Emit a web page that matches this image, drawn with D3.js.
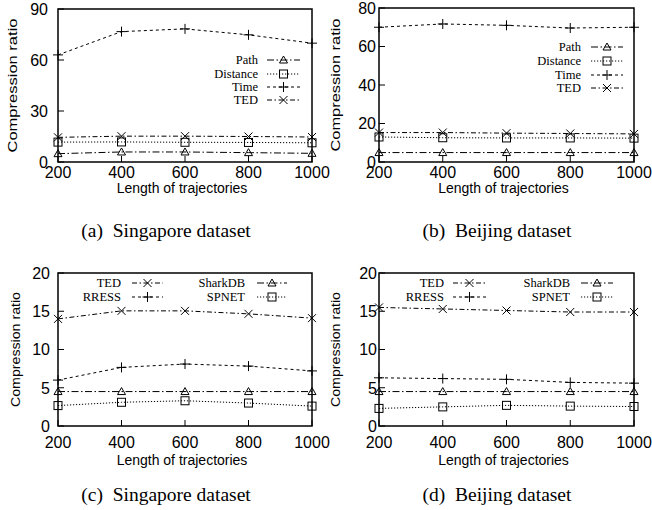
<!DOCTYPE html>
<html>
<head>
<meta charset="utf-8">
<script src="https://cdn.jsdelivr.net/npm/d3@7"></script>
<style>
body { margin: 0; background: #fff; }
svg { display: block; }
.tick-label { font-family: "Liberation Sans", Arial, sans-serif; font-size: 16px; }
.axis-title { font-family: "Liberation Sans", Arial, sans-serif; font-size: 13px; }
.legend-text { font-family: "Liberation Serif", "Times New Roman", serif; font-size: 12.5px; }
.caption { font-family: "Liberation Serif", "Times New Roman", serif; font-size: 19.5px; }
</style>
</head>
<body>
<svg id="chart" width="652" height="510"></svg>
<script>
// x values shared by all four panels
var lengths = [200, 400, 600, 800, 1000]

// (a) Singapore, trajectory size measures
var sgPath = [4.9, 5.9, 5.9, 5.5, 5.1]
var sgDistance = [11.7, 11.8, 11.6, 11.5, 11.3]
var sgTime = [63, 76.7, 78.3, 74.8, 69.9]
var sgTed = [14.5, 15.2, 15.2, 15.0, 14.7]

// (b) Beijing, trajectory size measures
var bjPath = [4.9, 4.9, 4.9, 4.9, 4.9]
var bjDistance = [13.0, 12.6, 12.5, 12.5, 12.4]
var bjTime = [70, 71.7, 71, 69.6, 70]
var bjTed = [15.3, 15.3, 15.0, 14.8, 14.6]

// (c) Singapore, compression methods
var sgTed2 = [14.0, 15.05, 15.05, 14.66, 14.1]
var sgRress = [6.0, 7.66, 8.1, 7.83, 7.2]
var sgShark = [4.5, 4.5, 4.5, 4.5, 4.5]
var sgSpnet = [2.67, 3.1, 3.3, 3.0, 2.6]

// (d) Beijing, compression methods
var bjTed2 = [15.5, 15.3, 15.1, 14.9, 14.9]
var bjRress = [6.3, 6.2, 6.1, 5.7, 5.6]
var bjShark = [4.5, 4.5, 4.5, 4.5, 4.5]
var bjSpnet = [2.3, 2.5, 2.7, 2.6, 2.55]

var topTicks = [[0, 30, 60, 90], [0, 20, 40, 60, 80]]
var bottomTicks = [0, 5, 10, 15, 20]

// gnuplot-ish line types
var styles = {
    dashdot: { dash: '7,2.5,1.5,2.5', marker: 'triangle' },
    dotted: { dash: '1.2,1.8', marker: 'square' },
    dashed: { dash: '3,3', marker: 'plus' },
    ted: { dash: '5,2.5,1.5,2.5', marker: 'cross' }
}

var panels = [
    {
        box: [58, 312, 9, 162], ymax: 90, ticks: topTicks[0], tickGap: 10,
        titleX: 12, titleLen: 134, xLabelY: 178, xTitleY: 193,
        caption: '(a)  Singapore dataset', capX: 166, capY: 237,
        series: [
            { name: 'Path', values: sgPath, style: 'dashdot' },
            { name: 'Distance', values: sgDistance, style: 'dotted' },
            { name: 'Time', values: sgTime, style: 'dashed' },
            { name: 'TED', values: sgTed, style: 'ted' }
        ],
        legend: { cols: [[258, 267, 300]], rows: [60, 74, 87, 100] }
    },
    {
        box: [379, 634, 8, 162], ymax: 80, ticks: topTicks[1], tickGap: 3,
        titleX: 335, titleLen: 133, xLabelY: 178, xTitleY: 193,
        caption: '(b)  Beijing dataset', capX: 497, capY: 237,
        series: [
            { name: 'Path', values: bjPath, style: 'dashdot' },
            { name: 'Distance', values: bjDistance, style: 'dotted' },
            { name: 'Time', values: bjTime, style: 'dashed' },
            { name: 'TED', values: bjTed, style: 'ted' }
        ],
        legend: { cols: [[581, 591, 623]], rows: [47, 61, 75, 88] }
    },
    {
        box: [58, 312, 273, 426], ymax: 20, ticks: bottomTicks, tickGap: 8,
        titleX: 15, titleLen: 115, xLabelY: 448, xTitleY: 465,
        caption: '(c)  Singapore dataset', capX: 166, capY: 501,
        series: [
            { name: 'TED', values: sgTed2, style: 'ted' },
            { name: 'RRESS', values: sgRress, style: 'dashed' },
            { name: 'SharkDB', values: sgShark, style: 'dashdot' },
            { name: 'SPNET', values: sgSpnet, style: 'dotted' }
        ],
        legend: { cols: [[121, 132, 163], [245, 257, 287]], rows: [283, 297] }
    },
    {
        box: [379, 634, 273, 426], ymax: 20, ticks: bottomTicks, tickGap: 2,
        titleX: 335, titleLen: 115, xLabelY: 448, xTitleY: 465,
        caption: '(d)  Beijing dataset', capX: 497, capY: 501,
        series: [
            { name: 'TED', values: bjTed2, style: 'ted' },
            { name: 'RRESS', values: bjRress, style: 'dashed' },
            { name: 'SharkDB', values: bjShark, style: 'dashdot' },
            { name: 'SPNET', values: bjSpnet, style: 'dotted' }
        ],
        legend: { cols: [[444, 453, 486], [570, 581, 613]], rows: [283, 297] }
    }
]

var svg = d3.select('#chart')

// draw one point marker centred on (x, y)
var drawMarker = function (g, type, x, y) {
    var s = 4
    if (type === 'triangle') {
        g.append('path')
            .attr('d', 'M' + x + ',' + (y - s) + 'L' + (x + s) + ',' + (y + s * 0.75) + 'L' + (x - s) + ',' + (y + s * 0.75) + 'Z')
            .attr('fill', 'none').attr('stroke', '#000').attr('stroke-width', 1)
    } else if (type === 'square') {
        g.append('rect')
            .attr('x', x - s).attr('y', y - s).attr('width', 2 * s).attr('height', 2 * s)
            .attr('fill', 'none').attr('stroke', '#000').attr('stroke-width', 1)
    } else if (type === 'plus') {
        g.append('path')
            .attr('d', 'M' + (x - s - 1) + ',' + y + 'H' + (x + s + 1) + 'M' + x + ',' + (y - s - 1) + 'V' + (y + s + 1))
            .attr('stroke', '#000').attr('stroke-width', 1)
    } else {
        g.append('path')
            .attr('d', 'M' + (x - s) + ',' + (y - s) + 'L' + (x + s) + ',' + (y + s) + 'M' + (x + s) + ',' + (y - s) + 'L' + (x - s) + ',' + (y + s))
            .attr('stroke', '#000').attr('stroke-width', 1)
    }
}

panels.forEach(function (p) {
    var g = svg.append('g')
    var x = d3.scaleLinear().domain([200, 1000]).range([p.box[0], p.box[1]])
    var y = d3.scaleLinear().domain([0, p.ymax]).range([p.box[3], p.box[2]])

    // inward ticks on left and bottom
    p.ticks.forEach(function (t) {
        g.append('line')
            .attr('x1', p.box[0]).attr('x2', p.box[0] + 6)
            .attr('y1', y(t)).attr('y2', y(t))
            .attr('stroke', '#000').attr('stroke-width', 1)
        g.append('text')
            .attr('class', 'tick-label')
            .attr('x', p.box[0] - p.tickGap).attr('y', y(t))
            .attr('dy', '0.36em')
            .attr('text-anchor', 'end')
            .text(t)
    })
    lengths.forEach(function (v) {
        g.append('line')
            .attr('x1', x(v)).attr('x2', x(v))
            .attr('y1', p.box[3]).attr('y2', p.box[3] - 6)
            .attr('stroke', '#000').attr('stroke-width', 1)
        g.append('text')
            .attr('class', 'tick-label')
            .attr('x', x(v)).attr('y', p.xLabelY)
            .attr('text-anchor', 'middle')
            .text(v)
    })

    // the series
    var line = d3.line()
        .x(function (d, i) { return x(lengths[i]) })
        .y(function (d) { return y(d) })

    p.series.forEach(function (s) {
        var st = styles[s.style]
        g.append('path')
            .attr('d', line(s.values))
            .attr('fill', 'none')
            .attr('stroke', '#000')
            .attr('stroke-width', 1)
            .attr('stroke-dasharray', st.dash)
        s.values.forEach(function (v, i) {
            drawMarker(g, st.marker, x(lengths[i]), y(v))
        })
    })

    // legend, filled column by column
    var perCol = p.legend.rows.length
    p.series.forEach(function (s, i) {
        var col = p.legend.cols[Math.floor(i / perCol)]
        var ry = p.legend.rows[i % perCol]
        var st = styles[s.style]
        g.append('text')
            .attr('class', 'legend-text')
            .attr('x', col[0]).attr('y', ry)
            .attr('dy', '0.35em')
            .attr('text-anchor', 'end')
            .text(s.name)
        g.append('line')
            .attr('x1', col[1]).attr('x2', col[2])
            .attr('y1', ry).attr('y2', ry)
            .attr('stroke', '#000').attr('stroke-width', 1)
            .attr('stroke-dasharray', st.dash)
        drawMarker(g, st.marker, (col[1] + col[2]) / 2, ry)
    })

    // frame
    g.append('rect')
        .attr('x', p.box[0]).attr('y', p.box[2])
        .attr('width', p.box[1] - p.box[0]).attr('height', p.box[3] - p.box[2])
        .attr('fill', 'none').attr('stroke', '#000').attr('stroke-width', 1.5)

    // axis titles
    var cy = (p.box[2] + p.box[3]) / 2
    g.append('text')
        .attr('class', 'axis-title')
        .attr('transform', 'translate(' + p.titleX + ',' + cy + ') rotate(-90)')
        .attr('dy', '0.35em')
        .attr('text-anchor', 'middle')
        .attr('textLength', p.titleLen)
        .attr('lengthAdjust', 'spacingAndGlyphs')
        .text('Compression ratio')
    g.append('text')
        .attr('class', 'axis-title')
        .style('font-size', '14px')
        .attr('x', (p.box[0] + p.box[1]) / 2 - 3).attr('y', p.xTitleY)
        .attr('text-anchor', 'middle')
        .text('Length of trajectories')

    g.append('text')
        .attr('class', 'caption')
        .attr('x', p.capX).attr('y', p.capY)
        .attr('text-anchor', 'middle')
        .attr('xml:space', 'preserve')
        .style('white-space', 'pre')
        .text(p.caption)
})
</script>
</body>
</html>
